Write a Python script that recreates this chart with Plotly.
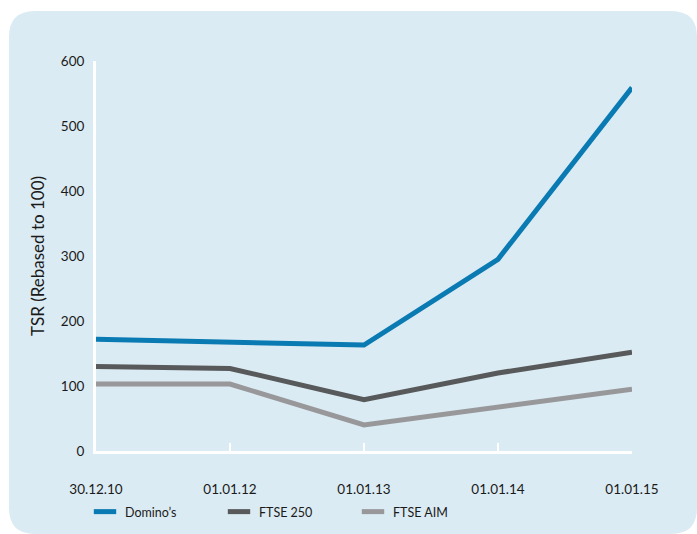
import plotly.graph_objects as go

dates = ["30.12.10", "01.01.12", "01.01.13", "01.01.14", "01.01.15"]
dominos = [172, 167, 163, 295, 559]
ftse250 = [130, 127, 79, 120, 152]
ftse_aim = [103, 103, 40, 67, 95]

series = [
    ("Domino\u2019s", dominos, "#0a7ab3"),
    ("FTSE 250", ftse250, "#58595b"),
    ("FTSE AIM", ftse_aim, "#98989b"),
]

W, H = 697, 534
L, R, T, B = 96, 65, 61, 83
PW, PH = W - L - R, H - T - B

def px(x):
    return (x - L) / PW

def py(y):
    return (H - B - y) / PH

FONT = "Lato"
fig = go.Figure()

for name, vals, col in series:
    fig.add_trace(go.Scatter(x=list(range(len(dates))), y=vals, mode="lines",
                             line=dict(color=col, width=5), showlegend=False,
                             hoverinfo="skip"))
for name, vals, col in series:
    fig.add_trace(go.Scatter(x=[None], y=[None], mode="markers", name=name,
                             marker=dict(symbol="line-ew", size=16,
                                         line=dict(color=col, width=5))))

# rounded panel
x0, x1, y0, y1, r = 9, 697, 11, 534, 26
path = (f"M {px(x0+r)},{py(y0)} L {px(x1-r)},{py(y0)} Q {px(x1)},{py(y0)} {px(x1)},{py(y0+r)} "
        f"L {px(x1)},{py(y1-r)} Q {px(x1)},{py(y1)} {px(x1-r)},{py(y1)} "
        f"L {px(x0+r)},{py(y1)} Q {px(x0)},{py(y1)} {px(x0)},{py(y1-r)} "
        f"L {px(x0)},{py(y0+r)} Q {px(x0)},{py(y0)} {px(x0+r)},{py(y0)} Z")
fig.add_shape(type="path", path=path, xref="paper", yref="paper",
              fillcolor="#daebf3", line=dict(width=0), layer="below")

fig.update_layout(
    width=W, height=H,
    margin=dict(l=L, r=R, t=T, b=B, autoexpand=False),
    paper_bgcolor="white", plot_bgcolor="rgba(0,0,0,0)",
    font=dict(family=FONT, size=13, color="#1a1a1a"),
    showlegend=True,
    legend=dict(orientation="h", x=px(85), xanchor="left", y=py(512), yanchor="middle",
                entrywidth=89, entrywidthmode="pixels", bgcolor="rgba(0,0,0,0)",
                font=dict(size=12.5, color="#1a1a1a"), itemclick=False),
    xaxis=dict(range=[0, 4], tickmode="array", tickvals=list(range(len(dates))),
               ticktext=dates, showgrid=False, zeroline=False, showline=True,
               linecolor="white", linewidth=3, ticks="inside", ticklen=8,
               tickwidth=2, tickcolor="white", ticklabelstandoff=24,
               tickfont=dict(size=13.5)),
    yaxis=dict(range=[0, 600], tickvals=[0, 100, 200, 300, 400, 500, 600],
               showgrid=False, zeroline=False, showline=True, linecolor="white",
               linewidth=3, ticks="", ticklabelstandoff=6,
               title=dict(text="TSR (Rebased to 100)", font=dict(size=17), standoff=12),
               tickfont=dict(size=13.5)),
)

fig.write_html("out.html")
